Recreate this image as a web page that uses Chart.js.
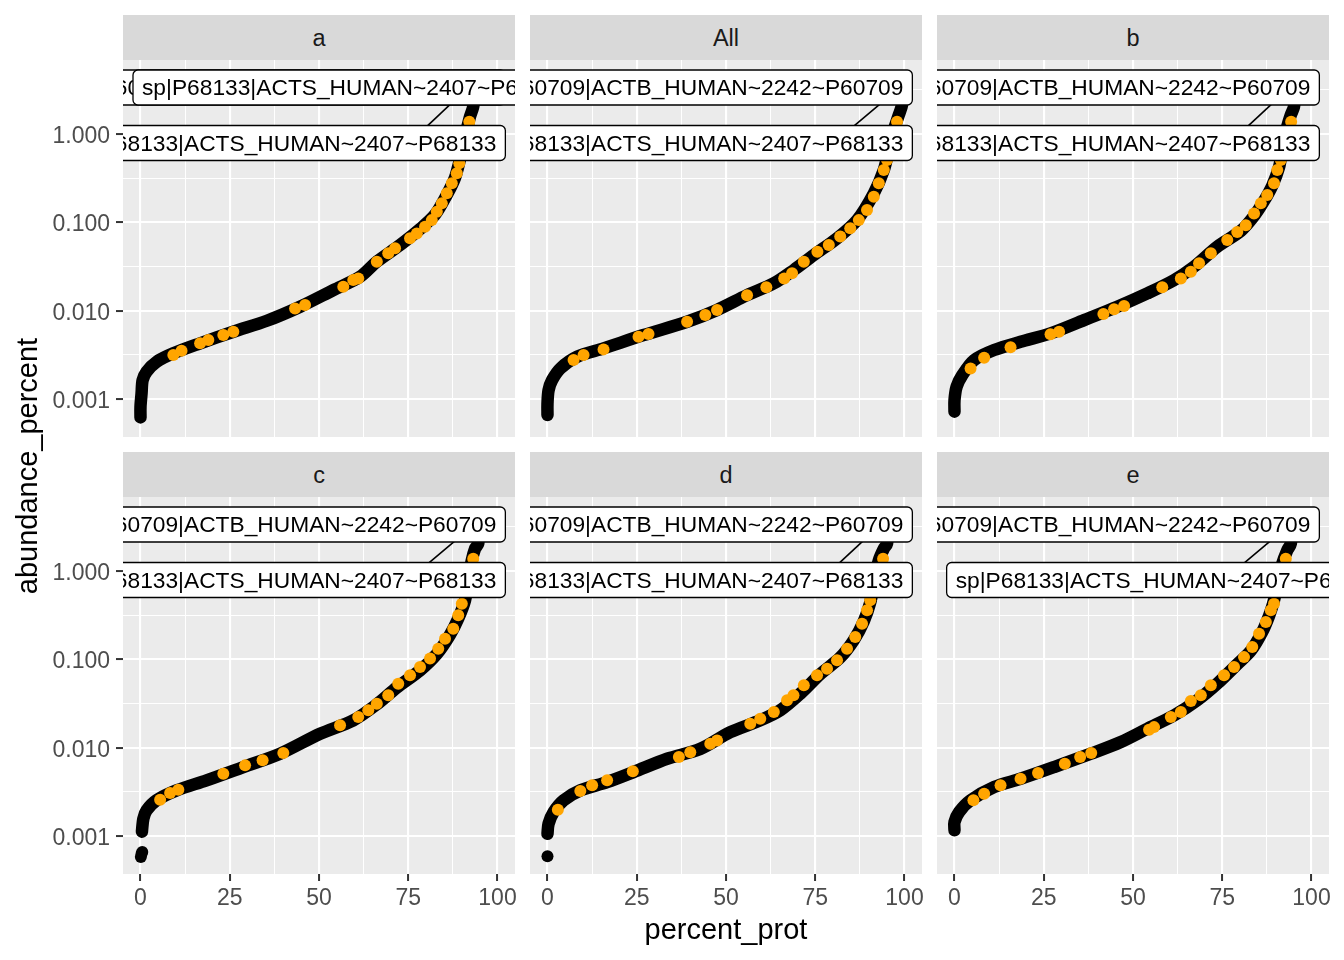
<!DOCTYPE html>
<html lang="en">
<head>
<meta charset="UTF-8">
<title>abundance_percent by percent_prot</title>
<script src="https://cdn.jsdelivr.net/npm/chart.js"></script>
<style>
  body { margin: 0; background: #fff; font-family: "Liberation Sans", Arial, sans-serif; }
  #page { position: relative; width: 1344px; height: 960px; overflow: hidden; }
  canvas { position: absolute; }
  .strip { position: absolute; background: #D9D9D9; color: #1A1A1A; font-size: 23.5px; text-align: center; }
  .title { position: absolute; color: #000; font-size: 29px; white-space: nowrap; text-align: center; }
</style>
</head>
<body>
<div id="page"></div>
<script>
// ---- data: [percent_prot, abundance_percent] ----
const xTicks = [0, 12.5, 25, 37.5, 50, 62.5, 75, 87.5, 100];
const yTicks = [0.001, 0.00316, 0.01, 0.0316, 0.1, 0.316, 1, 3.16];
const yMajor = [0.001, 0.01, 0.1, 1];

const ACTB = 'sp|P60709|ACTB_HUMAN~2242~P60709';
const ACTS = 'sp|P68133|ACTS_HUMAN~2407~P68133';

const curveA = [[0,0.00062],[0,0.00082],[0.3,0.00116],[0.6,0.00164],[1.7,0.00204],[4.5,0.00264],[9.2,0.00329],[16.7,0.00427],[26.0,0.00578],[35.4,0.0077],[44.7,0.0111],[54.0,0.0171],[61.5,0.0242],[66.2,0.0359],[72.7,0.0554],[78.3,0.084],[82.5,0.122],[85.8,0.205],[88.1,0.32],[89.5,0.52],[90.9,0.93],[92.3,1.57],[93.2,2.04],[94.0,3.5]];
const orangeA = [[9.2,0.00315],[11.5,0.00352],[16.7,0.00427],[19.0,0.00466],[23.2,0.0053],[26.0,0.00578],[43.3,0.0106],[46.1,0.0116],[56.8,0.0187],[59.6,0.0222],[61.0,0.0232],[66.2,0.0359],[69.4,0.0446],[71.3,0.0508],[75.5,0.066],[77.4,0.075],[79.7,0.089],[81.6,0.106],[83.0,0.132],[84.4,0.164],[85.8,0.213],[87.2,0.277],[88.6,0.359],[89.3,0.466],[92.1,1.38]];

const curveAll = [[0,0.00066],[0,0.00089],[0.3,0.00126],[1.3,0.00164],[3.6,0.00222],[8.3,0.00301],[15.7,0.00375],[26.9,0.0053],[39.1,0.0075],[47.5,0.0102],[55.9,0.015],[63.4,0.0204],[69.0,0.0289],[74.6,0.0427],[81.1,0.066],[86.7,0.106],[91.4,0.213],[94.2,0.391],[95.6,0.659],[97.0,1.11],[98.4,1.64],[99.3,2.13],[99.8,3.8]];
const orangeAll = [[7.3,0.00276],[10.1,0.00315],[15.7,0.00365],[25.5,0.00508],[28.3,0.00544],[39.1,0.0075],[44.2,0.00893],[47.5,0.0102],[55.9,0.015],[61.3,0.0184],[66.3,0.0232],[68.5,0.0265],[71.8,0.0359],[75.6,0.0466],[78.8,0.0554],[82.0,0.069],[84.8,0.086],[87.2,0.106],[89.5,0.138],[91.4,0.195],[92.8,0.277],[94.2,0.391],[95.1,0.508],[97.9,1.38]];

const curveB = [[0,0.00072],[0,0.00097],[0.6,0.00138],[2.2,0.00187],[5.5,0.00276],[11.1,0.00359],[18.5,0.00445],[26.9,0.00554],[36.3,0.00783],[45.6,0.0111],[54.0,0.0157],[61.5,0.0222],[67.1,0.0315],[73.6,0.053],[80.2,0.08],[83.9,0.118],[86.7,0.175],[89.0,0.26],[90.9,0.42],[91.8,0.66],[93.2,1.21],[94.2,1.64],[95.1,2.04],[95.5,3.6]];
const orangeB = [[4.5,0.00222],[8.3,0.00294],[15.7,0.00385],[26.9,0.0054],[29.3,0.00578],[41.7,0.0092],[44.7,0.0104],[47.5,0.0113],[58.2,0.0184],[63.4,0.0232],[66.2,0.0276],[68.5,0.0344],[71.8,0.0446],[76.4,0.063],[79.2,0.078],[81.6,0.093],[83.9,0.126],[85.8,0.164],[87.6,0.204],[89.5,0.277],[90.4,0.391],[91.4,0.508],[94.3,1.38]];

const curveC = [[0.4,0.00112],[0.8,0.00157],[1.7,0.00195],[4.5,0.00254],[10.1,0.00329],[18.5,0.00427],[28.8,0.00604],[39.1,0.00855],[50.3,0.0144],[59.6,0.0204],[66.2,0.031],[71.8,0.048],[78.3,0.075],[83.0,0.115],[86.7,0.19],[89.0,0.29],[90.9,0.466],[91.8,0.785],[92.8,1.32],[93.7,1.79],[94.6,2.04],[95.0,3.6]];
const loneC = [[0.3,0.00063],[0.1,0.00058],[0.5,0.00066]];
const orangeC = [[5.5,0.00258],[8.3,0.00307],[10.6,0.00334],[23.2,0.00507],[29.3,0.00631],[34.2,0.0072],[40.0,0.0087],[55.9,0.0179],[61.0,0.0222],[63.8,0.0265],[66.2,0.0315],[69.4,0.0392],[72.2,0.053],[75.5,0.066],[78.3,0.082],[81.1,0.102],[83.4,0.132],[85.3,0.171],[87.6,0.222],[89.0,0.315],[90.0,0.427],[93.2,1.38]];

const curveD = [[0,0.00106],[0.3,0.00138],[1.7,0.00187],[4.5,0.00254],[9.2,0.00329],[16.7,0.00408],[24.1,0.0053],[33.5,0.0075],[42.8,0.0097],[51.2,0.015],[59.6,0.0204],[65.2,0.0265],[70.8,0.0408],[76.4,0.068],[82.0,0.105],[85.8,0.165],[88.6,0.27],[90.4,0.44],[91.4,0.72],[92.8,1.32],[94.2,1.79],[95.1,2.04],[95.5,3.6]];
const loneD = [[0,0.00059]];
const orangeD = [[2.9,0.00199],[9.2,0.00323],[12.5,0.00375],[16.7,0.00427],[23.9,0.0054],[36.8,0.00783],[40.0,0.0089],[45.6,0.0111],[47.5,0.0121],[56.8,0.0187],[59.6,0.0213],[63.4,0.0253],[67.1,0.0344],[68.9,0.0392],[71.8,0.0508],[75.5,0.066],[78.3,0.0783],[81.1,0.0975],[83.9,0.132],[86.2,0.179],[88.1,0.253],[89.5,0.359],[90.4,0.466],[94.0,1.38]];

const curveE = [[0,0.00116],[0,0.00144],[1.3,0.00187],[4.5,0.00254],[11.1,0.00359],[18.5,0.00445],[27.9,0.00604],[38.2,0.00855],[46.6,0.0116],[54.0,0.0164],[61.5,0.0232],[68.0,0.0344],[73.6,0.053],[79.2,0.088],[83.0,0.125],[86.2,0.205],[88.1,0.31],[89.5,0.466],[90.4,0.718],[91.8,1.21],[93.2,1.71],[94.2,2.04],[94.6,3.6]];
const orangeE = [[5.3,0.00254],[8.3,0.00301],[12.9,0.00375],[18.5,0.00445],[23.4,0.00517],[30.9,0.0066],[35.2,0.00783],[38.3,0.0087],[54.5,0.016],[55.9,0.0171],[60.6,0.0222],[63.4,0.0253],[66.2,0.0337],[69.0,0.0392],[71.8,0.0508],[75.5,0.066],[78.3,0.082],[81.1,0.106],[83.4,0.138],[85.3,0.195],[87.2,0.265],[88.6,0.359],[89.5,0.427],[92.8,1.38]];

// repel labels: [text, x of box edge, y of box centre, which edge]
const labelsA = [[ACTB, 102.2, 3.36, 'right'], [ACTS, -2.1, 3.36, 'left'], [ACTS, 102.2, 0.791, 'right']];
const labelsMid = [[ACTB, 102.2, 3.36, 'right'], [ACTS, 102.2, 0.791, 'right']];
const labelsE = [[ACTB, 102.2, 3.36, 'right'], [ACTS, -2.2, 0.791, 'left']];

// label connector segments: [x0, y0, x1, y1]
const segA = [80.3, 1.23, 86.9, 2.19];
const segAll = [85.8, 1.23, 93.2, 2.19];
const segB = [82.2, 1.23, 88.9, 2.19];
const segC = [80.7, 1.23, 88.1, 2.19];
const segD = [81.7, 1.23, 88.4, 2.19];
const segE = [81.1, 1.23, 88.5, 2.19];

const panels = [
  { name: 'a',   col: 0, row: 0, curve: curveA,   lone: [],    orange: orangeA,   labels: labelsA,   seg: segA },
  { name: 'All', col: 1, row: 0, curve: curveAll, lone: [],    orange: orangeAll, labels: labelsMid, seg: segAll },
  { name: 'b',   col: 2, row: 0, curve: curveB,   lone: [],    orange: orangeB,   labels: labelsMid, seg: segB },
  { name: 'c',   col: 0, row: 1, curve: curveC,   lone: loneC, orange: orangeC,   labels: labelsMid, seg: segC },
  { name: 'd',   col: 1, row: 1, curve: curveD,   lone: loneD, orange: orangeD,   labels: labelsMid, seg: segD },
  { name: 'e',   col: 2, row: 1, curve: curveE,   lone: [],    orange: orangeE,   labels: labelsE,   seg: segE }
];

// ---- layout ----
const colLeft = [123, 530, 937];
const rowTop = [60, 497];
const PANEL_W = 392, PANEL_H = 377, STRIP_H = 45;
const AXIS_W = 80, AXIS_H = 50, RIGHT_PAD = 25;
const FONT = '"Liberation Sans", Arial, sans-serif';
const BOX_H = 35, BOX_PAD = 9;

const page = document.getElementById('page');
const toXY = arr => arr.map(([x, y]) => ({ x, y }));
const isMajorX = v => v % 25 === 0;
const isMajorY = v => yMajor.includes(v);

function panelPlugin(p) {
  return {
    id: 'panelLook',
    beforeDraw(chart) {
      const a = chart.chartArea, ctx = chart.ctx;
      ctx.save();
      ctx.fillStyle = '#EBEBEB';
      ctx.fillRect(a.left, a.top, a.right - a.left, a.bottom - a.top);
      ctx.restore();
    },
    afterDatasetsDraw(chart) {
      const a = chart.chartArea, ctx = chart.ctx;
      const xs = chart.scales.x, ys = chart.scales.y;
      ctx.save();
      ctx.beginPath();
      ctx.rect(a.left, a.top, a.right - a.left, a.bottom - a.top);
      ctx.clip();

      const s = p.seg;
      ctx.strokeStyle = '#000';
      ctx.lineWidth = 1.6;
      ctx.beginPath();
      ctx.moveTo(xs.getPixelForValue(s[0]), ys.getPixelForValue(s[1]));
      ctx.lineTo(xs.getPixelForValue(s[2]), ys.getPixelForValue(s[3]));
      ctx.stroke();

      ctx.font = '22.75px ' + FONT;
      p.labels.forEach(([text, x, y, edge]) => {
        const w = ctx.measureText(text).width + 2 * BOX_PAD;
        const px = xs.getPixelForValue(x);
        const cy = ys.getPixelForValue(y);
        const left = edge === 'right' ? px - w : px;
        ctx.beginPath();
        ctx.roundRect(left, cy - BOX_H / 2, w, BOX_H, 5);
        ctx.fillStyle = '#fff';
        ctx.fill();
        ctx.lineWidth = 1.3;
        ctx.strokeStyle = '#000';
        ctx.stroke();
        ctx.fillStyle = '#000';
        ctx.textAlign = 'left';
        ctx.textBaseline = 'alphabetic';
        ctx.fillText(text, left + BOX_PAD, cy + 8);
      });
      ctx.restore();
    }
  };
}

panels.forEach(p => {
  const left = colLeft[p.col], top = rowTop[p.row];
  const showY = p.col === 0, showX = p.row === 1;

  const strip = document.createElement('div');
  strip.className = 'strip';
  strip.style.left = left + 'px';
  strip.style.top = (top - STRIP_H) + 'px';
  strip.style.width = PANEL_W + 'px';
  strip.style.height = STRIP_H + 'px';
  strip.style.lineHeight = (STRIP_H + 2) + 'px';
  strip.textContent = p.name;
  page.appendChild(strip);

  const canvas = document.createElement('canvas');
  canvas.width = AXIS_W + PANEL_W + RIGHT_PAD;
  canvas.height = PANEL_H + AXIS_H;
  canvas.style.left = (left - AXIS_W) + 'px';
  canvas.style.top = top + 'px';
  page.appendChild(canvas);

  new Chart(canvas.getContext('2d'), {
    type: 'scatter',
    data: {
      datasets: [
        { data: toXY(p.orange), pointRadius: 6, backgroundColor: '#FFA500', borderWidth: 0, order: 0 },
        { data: toXY(p.lone), pointRadius: 6, backgroundColor: '#000', borderWidth: 0, order: 1 },
        { data: toXY(p.curve), showLine: true, borderColor: '#000', borderWidth: 12.5,
          borderCapStyle: 'round', borderJoinStyle: 'round', tension: 0.3, pointRadius: 0, order: 2 }
      ]
    },
    options: {
      responsive: false,
      animation: false,
      events: [],
      layout: { autoPadding: false, padding: { left: 0, top: 0, right: RIGHT_PAD, bottom: 0 } },
      plugins: { legend: { display: false }, tooltip: { enabled: false } },
      scales: {
        x: {
          type: 'linear', position: 'bottom', min: -4.9, max: 104.9, bounds: 'data',
          afterBuildTicks: s => { s.ticks = xTicks.map(v => ({ value: v })); },
          afterFit: s => { s.height = AXIS_H; s.paddingLeft = 0; s.paddingRight = 0; },
          border: { display: false },
          grid: {
            color: '#FFFFFF',
            lineWidth: c => (c.tick && isMajorX(c.tick.value)) ? 2.1 : 1.05,
            drawTicks: showX, tickLength: 7, tickWidth: 2,
            tickColor: c => (c.tick && isMajorX(c.tick.value)) ? '#333333' : 'rgba(0,0,0,0)'
          },
          ticks: {
            display: showX, autoSkip: false, maxRotation: 0, padding: 4,
            color: '#4D4D4D', font: { family: FONT, size: 23 },
            callback: v => isMajorX(v) ? String(v) : ''
          }
        },
        y: {
          type: 'logarithmic', min: 0.000372, max: 6.88, bounds: 'data',
          afterBuildTicks: s => { s.ticks = yTicks.map(v => ({ value: v })); },
          afterFit: s => { s.width = AXIS_W; s.paddingTop = 0; s.paddingBottom = 0; },
          border: { display: false },
          grid: {
            color: '#FFFFFF',
            lineWidth: c => (c.tick && isMajorY(c.tick.value)) ? 2.1 : 1.05,
            drawTicks: showY, tickLength: 7, tickWidth: 2,
            tickColor: c => (c.tick && isMajorY(c.tick.value)) ? '#333333' : 'rgba(0,0,0,0)'
          },
          ticks: {
            display: showY, autoSkip: false, padding: 6, labelOffset: 2.5,
            color: '#4D4D4D', font: { family: FONT, size: 23 },
            callback: v => isMajorY(v) ? v.toFixed(3) : ''
          }
        }
      }
    },
    plugins: [panelPlugin(p)]
  });
});

// axis titles
const xTitle = document.createElement('div');
xTitle.className = 'title';
xTitle.style.left = '526px';
xTitle.style.top = '912px';
xTitle.style.width = '400px';
xTitle.style.lineHeight = '34px';
xTitle.textContent = 'percent_prot';
page.appendChild(xTitle);

const yTitle = document.createElement('div');
yTitle.className = 'title';
yTitle.style.left = (27 - 200) + 'px';
yTitle.style.top = (466 - 17) + 'px';
yTitle.style.width = '400px';
yTitle.style.lineHeight = '34px';
yTitle.style.transform = 'rotate(-90deg)';
yTitle.textContent = 'abundance_percent';
page.appendChild(yTitle);
</script>
</body>
</html>
